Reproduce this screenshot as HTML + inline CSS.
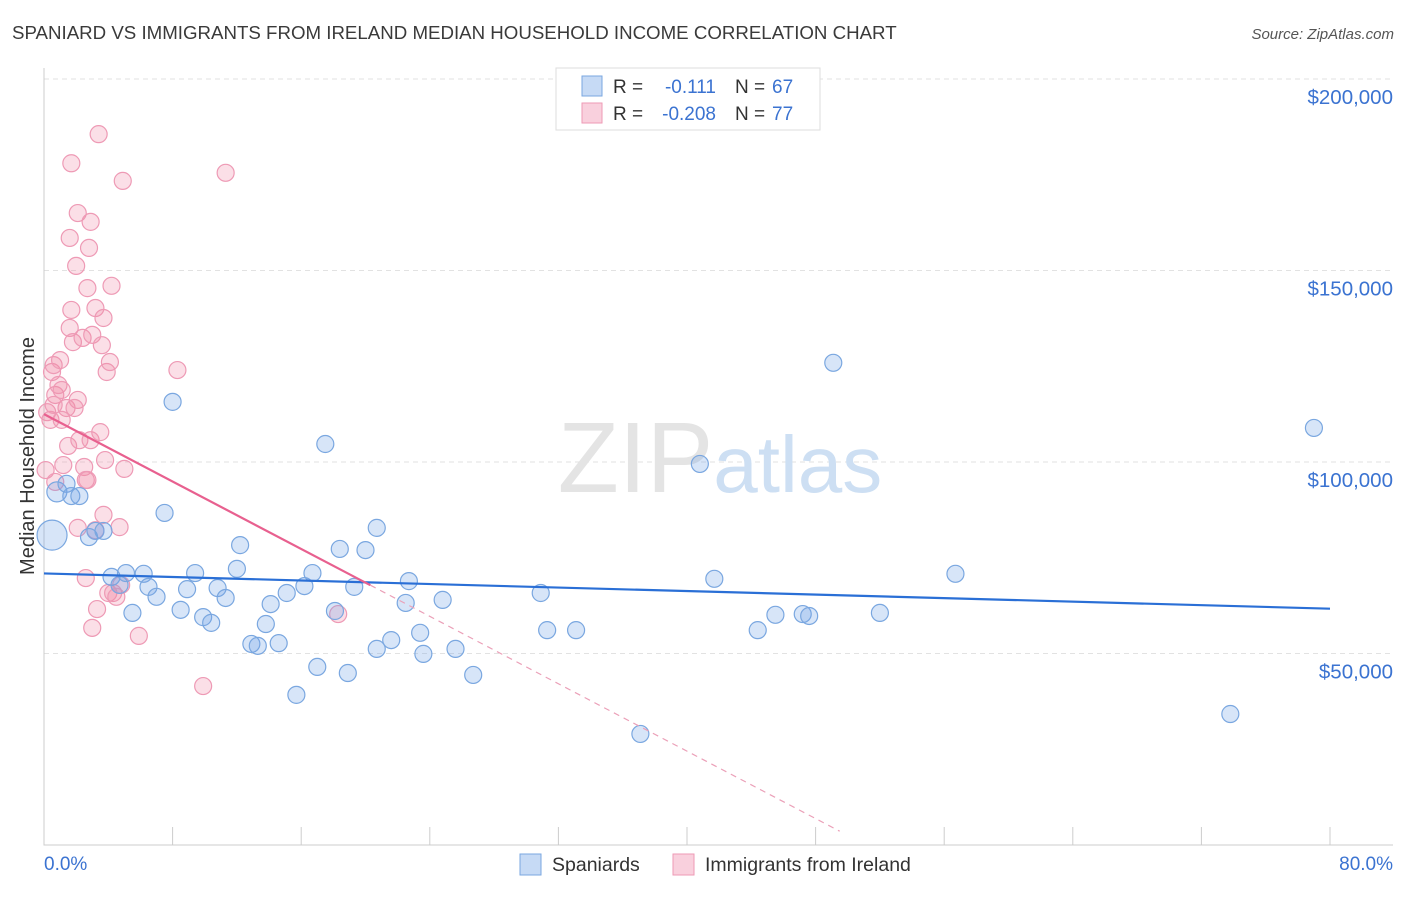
<!DOCTYPE html>
<html><head><meta charset="utf-8">
<style>
body{margin:0;background:#fff;font-family:"Liberation Sans",sans-serif;}
svg text{font-family:"Liberation Sans",sans-serif;}
</style></head>
<body>
<svg id="chart" width="1406" height="892" viewBox="0 0 1406 892" xmlns="http://www.w3.org/2000/svg">
<text x="12" y="39" font-size="18.7" fill="#3a3a3a">SPANIARD VS IMMIGRANTS FROM IRELAND MEDIAN HOUSEHOLD INCOME CORRELATION CHART</text>
<text x="1394" y="39" font-size="15" fill="#555" font-style="italic" text-anchor="end">Source: ZipAtlas.com</text>
<g id="grid"></g>
<text x="720" y="492" font-size="100" text-anchor="middle" fill="#e4e4e4" font-family="Liberation Serif">ZIP<tspan fill="#cddff3" font-family="Liberation Sans" font-size="80">atlas</tspan></text>
<text transform="translate(34,456) rotate(-90)" font-size="20" fill="#333" text-anchor="middle">Median Household Income</text>
<g id="points"></g>
<g id="trends"></g>
<g>
<rect x="556" y="68" width="264" height="62" fill="#fff" stroke="#ddd"/>
<rect x="582" y="76" width="20" height="20" fill="#c6daf5" stroke="#7aa7e0"/>
<rect x="582" y="103" width="20" height="20" fill="#f9d0dd" stroke="#ee9ab5"/>
<text x="613" y="93" font-size="19" fill="#333">R =</text><text x="716" y="93" font-size="19" fill="#3b73d1" text-anchor="end">-0.111</text>
<text x="735" y="93" font-size="19" fill="#333">N =</text><text x="772" y="93" font-size="19" fill="#3b73d1">67</text>
<text x="613" y="120" font-size="19" fill="#333">R =</text><text x="716" y="120" font-size="19" fill="#3b73d1" text-anchor="end">-0.208</text>
<text x="735" y="120" font-size="19" fill="#333">N =</text><text x="772" y="120" font-size="19" fill="#3b73d1">77</text>
</g>
<g>
<rect x="520" y="854" width="21" height="21" fill="#c6daf5" stroke="#7aa7e0"/>
<text x="552" y="871" font-size="19.5" fill="#333">Spaniards</text>
<rect x="673" y="854" width="21" height="21" fill="#f9d0dd" stroke="#ee9ab5"/>
<text x="705" y="871" font-size="19.5" fill="#333">Immigrants from Ireland</text>
</g>
<text x="44" y="870" font-size="19" fill="#3b73d1">0.0%</text>
<text x="1393" y="870" font-size="19" fill="#3b73d1" text-anchor="end">80.0%</text>
</svg>
<script>
const yTicks=[50,100,150,200];
const yTickLabels=["$50,000","$100,000","$150,000","$200,000"];
const xTickCount=10;
const blueX=[0.5,0.8,1.4,1.7,2.2,2.8,3.2,3.7,4.2,4.7,5.1,5.5,6.2,6.5,7.0,7.5,8.0,8.5,8.9,9.4,9.9,10.4,10.8,11.3,12.0,12.2,12.9,13.3,13.8,14.1,14.6,15.1,15.7,16.2,16.7,17.0,17.5,18.1,18.4,18.9,19.3,20.0,20.7,20.7,21.6,22.5,22.7,23.4,23.6,24.8,25.6,26.7,30.9,31.3,33.1,37.1,40.8,41.7,44.4,45.5,47.2,47.6,49.1,52.0,56.7,73.8,79.0];
const blueY=[80.9,92.2,94.3,91.1,91.1,80.4,82.0,82.0,70.0,67.9,71.0,60.6,70.8,67.4,64.8,86.7,115.7,61.4,66.8,71.0,59.5,58.0,67.1,64.5,72.1,78.3,52.5,52.0,57.7,62.9,52.7,65.8,39.2,67.6,71.0,46.5,104.7,61.1,77.3,44.9,67.4,77.0,51.2,82.8,53.5,63.2,68.9,55.4,49.9,64.0,51.2,44.4,65.8,56.1,56.1,29.0,99.5,69.5,56.1,60.1,60.3,59.8,125.9,60.6,70.8,34.2,108.9];
const pinkX=[0.1,0.2,0.4,0.5,0.6,0.7,0.9,1.0,1.1,1.2,1.4,1.5,1.6,1.7,1.6,1.7,1.8,2.0,2.1,2.1,2.2,2.4,2.5,2.6,2.6,2.7,2.7,2.8,2.9,2.9,3.0,3.0,3.2,3.2,3.3,3.4,3.5,3.6,3.7,3.7,3.8,3.9,4.0,4.1,4.2,4.3,4.5,4.7,4.8,4.9,5.0,5.9,8.3,9.9,11.3,18.3,0.7,1.9,2.1,1.1,0.6];
const pinkY=[97.9,113,111,123.5,125.3,117.5,120.1,126.6,118.8,99.2,114.1,104.2,158.5,178,135,139.7,131.3,151.2,165,116.2,105.7,132.4,98.7,69.7,95.3,145.4,95.3,155.9,105.7,162.7,133.2,56.7,82.2,140.2,61.6,185.6,107.8,130.5,86.2,137.6,100.5,123.5,65.8,126.1,146,65.8,64.8,83,67.9,173.4,98.2,54.6,124,41.5,175.5,60.3,94.8,114.1,82.8,111,114.9];
const blueBig=[0,1];
const blueTrend=[70.9,61.7];      // value at 0% and 80%
const pinkTrend=[112.5,-2.2];     // intercept, slope per %
const pinkSolidEnd=20.3, pinkDashEnd=49.5;
const X0=44,X1=1330,Y0=845,PXK=191.5/50;
const sx=v=>X0+(v/80)*(X1-X0);
const sy=v=>Y0-v*PXK;
const NS="http://www.w3.org/2000/svg";
const grid=document.getElementById('grid');
yTicks.forEach((t,i)=>{
  const l=document.createElementNS(NS,'line');
  l.setAttribute('x1',X0);l.setAttribute('x2',1393);l.setAttribute('y1',sy(t));l.setAttribute('y2',sy(t));
  l.setAttribute('stroke','#e2e2e2');l.setAttribute('stroke-dasharray','5,4');
  
  
  grid.appendChild(l);
  const tx=document.createElementNS(NS,'text');
  tx.setAttribute('x',1393);tx.setAttribute('y',sy(t)+25);tx.setAttribute('text-anchor','end');
  tx.setAttribute('font-size','20.5');tx.setAttribute('fill','#3b73d1');tx.textContent=yTickLabels[i];
  
  
  grid.appendChild(tx);
});
const ax=document.createElementNS(NS,'path');
ax.setAttribute('d',`M${X0} 68V${Y0}H1393`);ax.setAttribute('stroke','#ccc');ax.setAttribute('fill','none');


grid.appendChild(ax);
for(let i=1;i<=xTickCount;i++){
  const x=sx(i*80/xTickCount);
  const l=document.createElementNS(NS,'line');
  l.setAttribute('x1',x);l.setAttribute('x2',x);l.setAttribute('y1',Y0-18);l.setAttribute('y2',Y0);l.setAttribute('stroke','#ccc');
  
  
  grid.appendChild(l);
}
const pts=document.getElementById('points');
function dot(x,y,r,fill,stroke,name){
  const c=document.createElementNS(NS,'circle');
  c.setAttribute('cx',sx(x));c.setAttribute('cy',sy(y));c.setAttribute('r',r);
  c.setAttribute('fill',fill);c.setAttribute('stroke',stroke);c.setAttribute('stroke-width','1.2');
  
  
  pts.appendChild(c);
}
pinkX.forEach((x,i)=>dot(x,pinkY[i],8.5,'rgba(240,140,170,0.28)','#ee9ab5','ireland-point'));
blueX.forEach((x,i)=>dot(x,blueY[i],blueBig.includes(i)?(i==0?15:10):8.5,'rgba(110,160,230,0.28)','#7aa7e0','spaniard-point'));
const tr=document.getElementById('trends');
function line(x1,y1,x2,y2,col,w,dash,name){
  const l=document.createElementNS(NS,'line');
  l.setAttribute('x1',sx(x1));l.setAttribute('y1',sy(y1));l.setAttribute('x2',sx(x2));l.setAttribute('y2',sy(y2));
  l.setAttribute('stroke',col);l.setAttribute('stroke-width',w);if(dash)l.setAttribute('stroke-dasharray',dash);
  
  
  tr.appendChild(l);
}
line(0,blueTrend[0],80,blueTrend[1],'#2a6fd6',2.2,null,'spaniards-trend-line');
const pv=x=>pinkTrend[0]+pinkTrend[1]*x;
line(0,pv(0),pinkSolidEnd,pv(pinkSolidEnd),'#e8608f',2.2,null,'ireland-trend-line');
line(pinkSolidEnd,pv(pinkSolidEnd),pinkDashEnd,pv(pinkDashEnd),'#eba0b8',1.2,'6,5','ireland-trend-extension');
</script>
</body></html>
